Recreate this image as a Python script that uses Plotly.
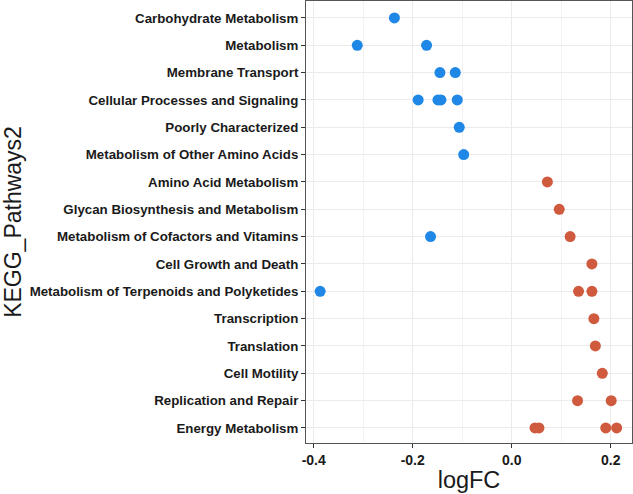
import plotly.graph_objects as go

categories = [
    "Carbohydrate Metabolism", "Metabolism", "Membrane Transport",
    "Cellular Processes and Signaling", "Poorly Characterized",
    "Metabolism of Other Amino Acids", "Amino Acid Metabolism",
    "Glycan Biosynthesis and Metabolism", "Metabolism of Cofactors and Vitamins",
    "Cell Growth and Death", "Metabolism of Terpenoids and Polyketides",
    "Transcription", "Translation", "Cell Motility",
    "Replication and Repair", "Energy Metabolism",
]

neg_pathway = [
    "Carbohydrate Metabolism", "Metabolism", "Metabolism",
    "Membrane Transport", "Membrane Transport",
    "Cellular Processes and Signaling", "Cellular Processes and Signaling",
    "Cellular Processes and Signaling", "Cellular Processes and Signaling",
    "Poorly Characterized", "Metabolism of Other Amino Acids",
    "Metabolism of Cofactors and Vitamins",
    "Metabolism of Terpenoids and Polyketides",
]
neg_logfc = [-0.237, -0.312, -0.172, -0.145, -0.114,
             -0.189, -0.149, -0.143, -0.110, -0.106, -0.097, -0.164, -0.387]

pos_pathway = [
    "Amino Acid Metabolism", "Glycan Biosynthesis and Metabolism",
    "Metabolism of Cofactors and Vitamins", "Cell Growth and Death",
    "Metabolism of Terpenoids and Polyketides", "Metabolism of Terpenoids and Polyketides",
    "Transcription", "Translation", "Cell Motility",
    "Replication and Repair", "Replication and Repair",
    "Energy Metabolism", "Energy Metabolism", "Energy Metabolism", "Energy Metabolism",
]
pos_logfc = [0.072, 0.096, 0.118, 0.162, 0.135, 0.162, 0.166, 0.169, 0.183,
             0.133, 0.201, 0.047, 0.055, 0.190, 0.212]

x_ticks = [-0.4, -0.2, 0.0, 0.2]
x_tick_labels = ["-0.4", "-0.2", "0.0", "0.2"]

fig = go.Figure()
fig.add_trace(go.Scatter(x=neg_logfc, y=neg_pathway, mode="markers",
                         marker=dict(color="#1F87E6", size=11, line=dict(width=0)),
                         showlegend=False))
fig.add_trace(go.Scatter(x=pos_logfc, y=pos_pathway, mode="markers",
                         marker=dict(color="#CF5A3E", size=11, line=dict(width=0)),
                         showlegend=False))

fig.update_layout(
    width=633, height=494,
    margin=dict(l=306, r=1, t=1, b=51),
    paper_bgcolor="white", plot_bgcolor="white",
    font=dict(family="Liberation Sans, Arial, sans-serif", color="#1a1a1a"),
    xaxis=dict(
        range=[-0.4156, 0.243], tickvals=x_ticks, ticktext=x_tick_labels,
        tickfont=dict(size=14, family="Liberation Sans, Arial", color="#1a1a1a", weight="bold"),
        showgrid=True, gridcolor="#EBEBEB", gridwidth=1,
        minor=dict(dtick=0.1, tick0=-0.3, showgrid=True, gridcolor="#F3F3F3", gridwidth=1),
        ticks="outside", ticklen=4, tickcolor="#333333",
        showline=True, linecolor="#555555", mirror=True, linewidth=1,
        zeroline=False,
        title=dict(text="logFC", font=dict(size=23.5, color="#1a1a1a"), standoff=4),
    ),
    yaxis=dict(
        type="category", categoryorder="array", categoryarray=categories[::-1],
        range=[-0.55, 15.62],
        tickfont=dict(size=13.3, family="Liberation Sans, Arial", color="#1a1a1a", weight="bold"),
        showgrid=True, gridcolor="#EBEBEB", gridwidth=1,
        ticks="outside", ticklen=4, tickcolor="#333333",
        showline=True, linecolor="#555555", mirror=True, linewidth=1,
        zeroline=False,
        title=dict(text="KEGG_Pathways2", font=dict(size=23, color="#1a1a1a"), standoff=2),
    ),
)

fig.write_html("out.html", config={"displayModeBar": False},
               post_script="document.body.style.margin='0';")
